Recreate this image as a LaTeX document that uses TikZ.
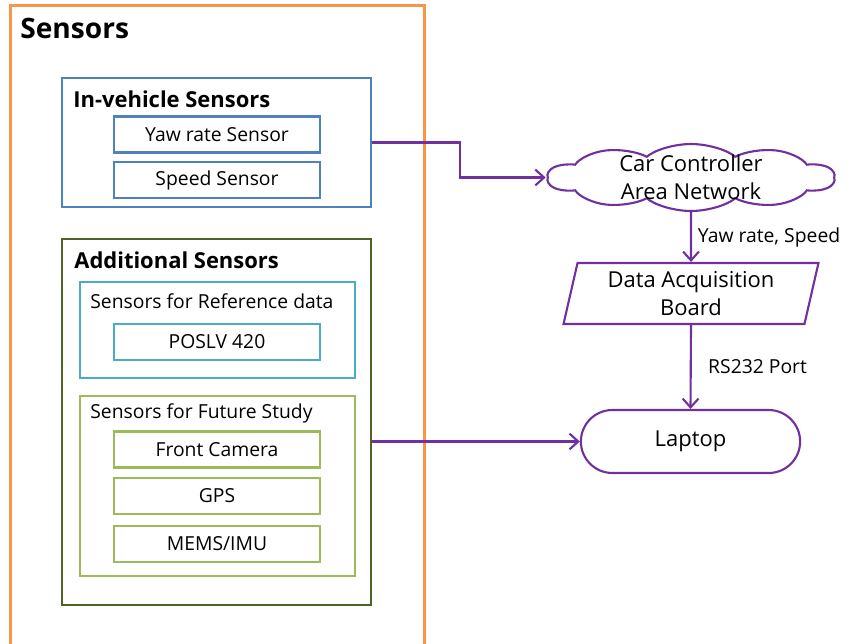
\documentclass[tikz,border=0pt]{standalone}
\usepackage{fontspec}
\setmainfont{Open Sans}
\usetikzlibrary{calc, shapes.symbols, shapes.geometric, shapes.misc, arrows.meta}

\definecolor{sensorOrange}{HTML}{F79646}
\definecolor{vehicleBlue}{HTML}{4F81BD}
\definecolor{addGreen}{HTML}{4F6228}
\definecolor{refTeal}{HTML}{4BACC6}
\definecolor{futureGreen}{HTML}{9BBB59}
\definecolor{flowPurple}{HTML}{7030A0}

\begin{document}
\begin{tikzpicture}[x=0.02cm, y=-0.02cm,
    group/.style={draw=#1, line width=1.2pt, inner sep=0pt},
    item/.style={draw=#1, line width=1.2pt, minimum width=4.12cm, minimum height=0.72cm,
        inner sep=0pt, font=\fontsize{11}{13}\selectfont},
    title/.style={anchor=west, inner sep=0pt, font=\fontsize{12.5}{15}\selectfont\bfseries},
    subtitle/.style={anchor=west, inner sep=0pt, font=\fontsize{11}{13}\selectfont},
    flowbox/.style={draw=flowPurple, line width=1.2pt, align=center,
        font=\fontsize{12.5}{16}\selectfont},
    flow/.style={draw=flowPurple, line width=1.2pt, -{Straight Barb[length=5pt, width=9pt]}},
    flowlabel/.style={right, font=\fontsize{11}{13}\selectfont}]
    \clip (0,0) rectangle (849,643);
    % Outer sensors frame (runs past the bottom edge)
    \node[group=sensorOrange, line width=1.7pt, minimum width=8.3cm, minimum height=13.2cm] (sensors) at (217.5,335) {};
    \node[anchor=west, inner sep=0pt, font=\fontsize{16}{19}\selectfont\bfseries] (sensorsT) at (20,28) {Sensors};
    % Group boxes
    \node[group=vehicleBlue, minimum width=6.18cm, minimum height=2.58cm] (invehicle) at (216.5,142.5) {};
    \node[group=addGreen, minimum width=6.18cm, minimum height=7.32cm] (additional) at (216.5,422) {};
    \node[group=refTeal, minimum width=5.5cm, minimum height=1.92cm] (refdata) at (217.5,330) {};
    \node[group=futureGreen, minimum width=5.5cm, minimum height=3.6cm] (future) at (217.5,486) {};
    % Group titles
    \node[title] (invehicleT) at (73,99) {In-vehicle Sensors};
    \node[title] (additionalT) at (74,260) {Additional Sensors};
    \node[subtitle] (refdataT) at (90,301) {Sensors for Reference data};
    \node[subtitle] (futureT) at (90,413) {Sensors for Future Study};
    % Single sensors
    \foreach \n/\y/\c/\t in {
        yaw/134.5/vehicleBlue/Yaw rate Sensor,
        speed/180/vehicleBlue/Speed Sensor,
        poslv/342/refTeal/POSLV 420,
        camera/449.5/futureGreen/Front Camera,
        gps/496/futureGreen/GPS,
        mems/544/futureGreen/{MEMS/IMU}
    } {
        \node[item=\c] (\n) at (217,\y) {\t};
    }
    % Data path (cloud is drawn half as wide, then stretched)
    \begin{scope}[shift={(691,177.5)}, xscale=2]
        \node[flowbox, cloud, cloud puffs=10, cloud puff arc=120, aspect=2, transform shape,
            minimum width=2.88cm, minimum height=1.34cm] (can) at (0,0) {};
    \end{scope}
    \node[flowbox, draw=none] (canT) at (can.center) {Car Controller\\Area Network};
    \node[flowbox, trapezium, trapezium left angle=76, trapezium right angle=104,
        trapezium stretches body, minimum width=5.1cm, minimum height=1.22cm] (daq) at (691,293.5) {Data Acquisition\\Board};
    \node[flowbox, rounded rectangle, minimum width=4.62cm, minimum height=1.26cm] (laptop) at (690.5,441.5) {Laptop};
    % Connectors
    \draw[flow] (invehicle.east) -- ++(88,0) |- (can.west);
    \draw[flow] (can.south) -- node[flowlabel] (canL) {Yaw rate, Speed} (daq.north);
    \draw[flow] (daq.south) -- node[flowlabel, xshift=6pt] (daqL) {RS232 Port} (laptop.north);
    \draw[flow] (laptop.west -| additional.east) -- (laptop.west);
\end{tikzpicture}
\end{document}
